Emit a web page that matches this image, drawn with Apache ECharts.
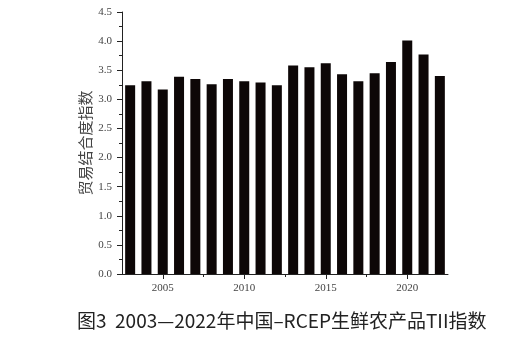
<!DOCTYPE html>
<html><head><meta charset="utf-8">
<script src="https://cdn.jsdelivr.net/npm/echarts@6/dist/echarts.min.js"></script>
<style>html,body{margin:0;padding:0;background:#fff}#c{width:522px;height:338px}</style>
</head><body><div id="c"></div>
<script>
const years = [2003,2004,2005,2006,2007,2008,2009,2010,2011,2012,2013,2014,2015,2016,2017,2018,2019,2020,2021,2022];
const tii = [3.24,3.31,3.17,3.39,3.35,3.26,3.35,3.31,3.29,3.24,3.58,3.55,3.62,3.43,3.31,3.45,3.64,4.01,3.77,3.40];
const xMajorTicks = [2005,2010,2015,2020];
const xMinorTicks = [2007.5,2012.5,2017.5];
const yAxisName = '贸易结合度指数';
const captionText = '图3  2003—2022年中国–RCEP生鲜农产品TII指数';

const chart = echarts.init(document.getElementById('c'));
const axisCol = '#222';
const labelFont = {fontFamily:'"Liberation Serif", serif', fontSize:11, color:'#444'};
chart.setOption({
  animation:false,
  grid:{left:122, right:74, top:12, bottom:64},
  title:{text:captionText, left:72, top:306, textStyle:{fontFamily:'"Noto Sans CJK SC", sans-serif', fontSize:19, fontWeight:'normal', color:'#222'}},
  xAxis:[{
    type:'value', min:2002.5, max:2022.5,
    axisLine:{show:true, lineStyle:{color:axisCol}},
    axisTick:{show:true, customValues:xMajorTicks, length:5, lineStyle:{color:axisCol}},
    axisLabel:{customValues:xMajorTicks, margin:9, formatter:v=>String(v), ...labelFont},
    splitLine:{show:false}
  },{
    type:'value', min:2002.5, max:2022.5, position:'bottom',
    axisLine:{show:false},
    axisTick:{show:true, customValues:xMinorTicks, length:3, lineStyle:{color:axisCol}},
    axisLabel:{show:false},
    splitLine:{show:false}
  }],
  yAxis:{
    type:'value', min:0, max:4.5, interval:0.5,
    name:yAxisName, nameLocation:'middle', nameGap:29, nameMoveOverlap:false,
    nameTextStyle:{fontFamily:'"Noto Sans CJK SC", sans-serif', fontSize:15, color:'#444'},
    axisLine:{show:true, lineStyle:{color:axisCol}},
    axisTick:{show:true, length:5, lineStyle:{color:axisCol}},
    minorTick:{show:true, splitNumber:2, length:3, lineStyle:{color:axisCol}},
    axisLabel:{formatter:v=>v.toFixed(1), margin:10, ...labelFont},
    splitLine:{show:false}
  },
  series:[{
    type:'bar', xAxisIndex:0, barWidth:10,
    itemStyle:{color:'#0d0707'},
    data: years.map((y,i)=>[y,tii[i]])
  }]
});
</script></body></html>
